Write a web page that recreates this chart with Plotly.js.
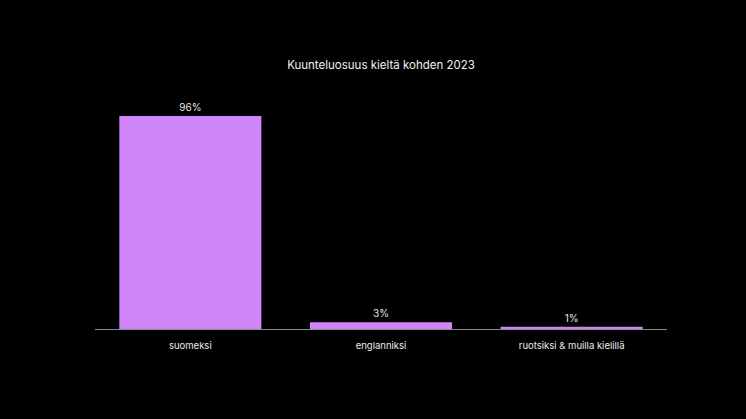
<!DOCTYPE html>
<html>
<head>
<meta charset="utf-8">
<script src="https://cdn.plot.ly/plotly-3.0.1.min.js"></script>
<style>
  html, body { margin: 0; padding: 0; background: #000; }
  #kaavio { width: 746px; height: 419px; }
</style>
</head>
<body>
<div id="kaavio"></div>
<script>
// Kuunteluosuus kielen mukaan 2023
const kielet = ['suomeksi', 'englanniksi', 'ruotsiksi &amp; muilla kielillä'];
const osuudet = [96, 3, 1];
const osuusTekstit = osuudet.map((v) => v + '%');

const fontti = 'Inter, "Noto Sans", sans-serif';

const trace = {
  type: 'bar',
  x: kielet,
  y: osuudet,
  text: osuusTekstit,
  textposition: 'outside',
  cliponaxis: false,
  textfont: { family: fontti, size: 10, color: '#e6e6e6' },
  marker: { color: '#d085f8', line: { width: 0 } },
  hoverinfo: 'skip',
};

const layout = {
  width: 746,
  height: 419,
  margin: { t: 107, r: 79, b: 90, l: 95 },
  paper_bgcolor: '#000',
  plot_bgcolor: '#000',
  bargap: 0.255,
  showlegend: false,
  font: { family: fontti, size: 10, color: '#e6e6e6' },
  title: {
    text: 'Kuunteluosuus kieltä kohden 2023',
    font: { family: fontti, size: 11.5, color: '#f2f2f2' },
    xref: 'paper',
    x: 0.5,
    xanchor: 'center',
    y: 0.845,
    yanchor: 'middle',
  },
  xaxis: {
    showline: true,
    linecolor: '#8a8a8a',
    linewidth: 1,
    ticks: '',
    ticklabelstandoff: 8,
    tickfont: { family: fontti, size: 9.5, color: '#ececec' },
    showgrid: false,
    zeroline: false,
    fixedrange: true,
  },
  yaxis: {
    range: [0, 100],
    visible: false,
    showgrid: false,
    zeroline: false,
    fixedrange: true,
  },
};

Plotly.newPlot('kaavio', [trace], layout, { displayModeBar: false, staticPlot: true });
</script>
</body>
</html>
